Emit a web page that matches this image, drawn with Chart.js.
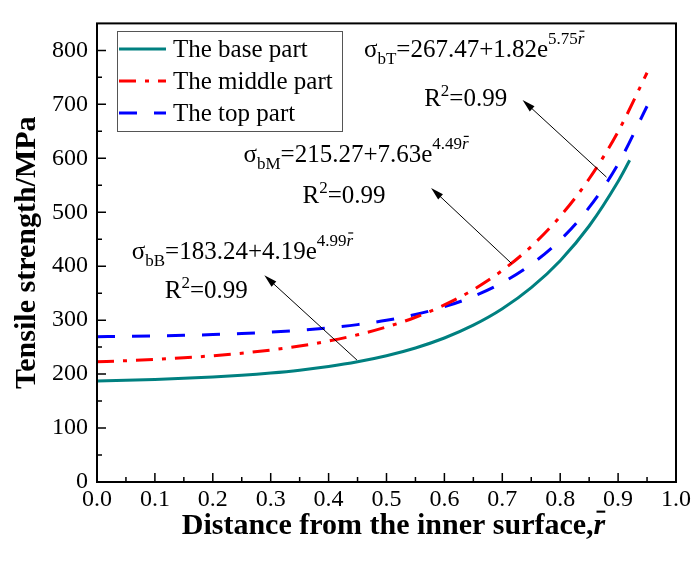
<!DOCTYPE html>
<html lang="en">
<head>
<meta charset="UTF-8" />
<title>Tensile strength vs distance from inner surface</title>
<script src="https://cdn.jsdelivr.net/npm/chart.js"></script>
<style>
  html, body { margin: 0; padding: 0; background: #fff; }
</style>
</head>
<body>
<canvas id="chart" width="694" height="563"></canvas>
<script>
  // values
  const rBase = [0, 0.05, 0.1, 0.15, 0.2, 0.25, 0.3, 0.35, 0.4, 0.45, 0.5, 0.55, 0.6, 0.65, 0.7, 0.75, 0.8, 0.85, 0.9, 0.92];
  const baseMPa = [187.4, 188.6, 190.1, 192.1, 194.6, 197.8, 202.0, 207.3, 214.1, 222.8, 234.0, 248.4, 266.9, 290.6, 321.0, 360.1, 410.2, 474.5, 557.0, 596.3];

  const rUpper = [0, 0.05, 0.1, 0.15, 0.2, 0.25, 0.3, 0.35, 0.4, 0.45, 0.5, 0.55, 0.6, 0.65, 0.7, 0.75, 0.8, 0.85, 0.9, 0.95];
  const middleMPa = [222.9, 224.8, 227.2, 230.2, 234.0, 238.7, 244.6, 252.0, 261.2, 272.8, 287.3, 305.4, 328.1, 356.5, 392.1, 436.6, 492.3, 562.1, 649.3, 758.5];
  const topMPa = [269.3, 269.9, 270.7, 271.8, 273.2, 275.1, 277.7, 281.1, 285.6, 291.7, 299.7, 310.5, 324.8, 343.9, 369.4, 403.3, 448.5, 508.9, 589.3, 696.5];

  const seriesNames = ['The base part', 'The middle part', 'The top part'];

  const xTicks = [0, 0.1, 0.2, 0.3, 0.4, 0.5, 0.6, 0.7, 0.8, 0.9, 1.0];
  const xTickLabels = ['0.0', '0.1', '0.2', '0.3', '0.4', '0.5', '0.6', '0.7', '0.8', '0.9', '1.0'];
  const yTicks = [0, 100, 200, 300, 400, 500, 600, 700, 800];

  // fitted equations (base, middle, top)
  const eqSubs = ['bB', 'bM', 'bT'];
  const eqBody = ['=183.24+4.19e', '=215.27+7.63e', '=267.47+1.82e'];
  const eqExp = ['4.99', '4.49', '5.75'];
  const r2Value = ['=0.99', '=0.99', '=0.99'];

  // where the notes sit, in data units (r, MPa)
  const eqAt = [[0.060, 414], [0.253, 593], [0.461, 788]];
  const r2At = [[0.117, 341], [0.355, 518], [0.565, 697]];
  const arrowFrom = [[0.449, 226], [0.716, 405], [0.880, 565]];
  const arrowTo = [[0.289, 383], [0.577, 545], [0.735, 708]];

  const SERIF = "'Liberation Serif', 'Times New Roman', serif";
  Chart.defaults.font.family = SERIF;
  Chart.defaults.color = '#000';

  function pts(xs, ys) {
    return xs.map((x, i) => ({ x: x, y: ys[i] }));
  }

  function drawRich(ctx, x, y, parts, measureOnly) {
    let cx = x;
    parts.forEach(p => {
      const size = p.size || 25;
      ctx.font = (p.italic ? 'italic ' : '') + (p.bold ? 'bold ' : '') + size + 'px ' + SERIF;
      const w = ctx.measureText(p.t).width;
      const by = y + (p.dy || 0);
      if (!measureOnly) {
        ctx.fillText(p.t, cx, by);
        if (p.bar) ctx.fillRect(cx + w * 0.25, by - size * 0.78, w * 0.75, Math.max(1, size * 0.07));
      }
      cx += w;
    });
    return cx - x;
  }

  const extras = {
    id: 'extras',
    afterDatasetsDraw(chart) {
      const ctx = chart.ctx;
      const a = chart.chartArea;
      const xs = chart.scales.x, ys = chart.scales.y;
      ctx.save();

      // frame
      ctx.strokeStyle = '#000';
      ctx.lineWidth = 2;
      ctx.strokeRect(a.left, a.top, a.right - a.left, a.bottom - a.top);

      // inward ticks
      ctx.lineWidth = 1.5;
      ctx.beginPath();
      xTicks.forEach((v, i) => {
        const px = xs.getPixelForValue(v);
        ctx.moveTo(px, a.bottom); ctx.lineTo(px, a.bottom - 9);
        if (i < xTicks.length - 1) {
          const pm = xs.getPixelForValue((v + xTicks[i + 1]) / 2);
          ctx.moveTo(pm, a.bottom); ctx.lineTo(pm, a.bottom - 5);
        }
      });
      yTicks.forEach((v, i) => {
        const py = ys.getPixelForValue(v);
        ctx.moveTo(a.left, py); ctx.lineTo(a.left + 9, py);
        const next = i < yTicks.length - 1 ? yTicks[i + 1] : v + 100;
        const pm = ys.getPixelForValue((v + next) / 2);
        if (pm > a.top + 2) { ctx.moveTo(a.left, pm); ctx.lineTo(a.left + 5, pm); }
      });
      ctx.stroke();

      // arrows
      ctx.strokeStyle = '#000';
      ctx.fillStyle = '#000';
      ctx.lineWidth = 1;
      arrowFrom.forEach((f, i) => {
        const x1 = xs.getPixelForValue(f[0]), y1 = ys.getPixelForValue(f[1]);
        const x2 = xs.getPixelForValue(arrowTo[i][0]), y2 = ys.getPixelForValue(arrowTo[i][1]);
        const ang = Math.atan2(y2 - y1, x2 - x1);
        ctx.beginPath();
        ctx.moveTo(x1, y1);
        ctx.lineTo(x2 - 8 * Math.cos(ang), y2 - 8 * Math.sin(ang));
        ctx.stroke();
        ctx.beginPath();
        ctx.moveTo(x2, y2);
        ctx.lineTo(x2 - 13 * Math.cos(ang) + 3.5 * Math.sin(ang), y2 - 13 * Math.sin(ang) - 3.5 * Math.cos(ang));
        ctx.lineTo(x2 - 13 * Math.cos(ang) - 3.5 * Math.sin(ang), y2 - 13 * Math.sin(ang) + 3.5 * Math.cos(ang));
        ctx.closePath();
        ctx.fill();
      });

      // equations and R2
      ctx.textBaseline = 'alphabetic';
      ctx.textAlign = 'left';
      eqAt.forEach((p, i) => {
        drawRich(ctx, xs.getPixelForValue(p[0]), ys.getPixelForValue(p[1]), [
          { t: 'σ' },
          { t: eqSubs[i], size: 17, dy: 7 },
          { t: eqBody[i] },
          { t: eqExp[i], size: 17, dy: -13 },
          { t: 'r', size: 17, dy: -13, italic: true, bar: true }
        ]);
        const q = r2At[i];
        drawRich(ctx, xs.getPixelForValue(q[0]), ys.getPixelForValue(q[1]), [
          { t: 'R' },
          { t: '2', size: 17, dy: -10 },
          { t: r2Value[i] }
        ]);
      });

      // legend
      ctx.strokeStyle = '#555';
      ctx.lineWidth = 1;
      ctx.strokeRect(117.5, 31.5, 225, 100);
      chart.data.datasets.forEach((ds, i) => {
        const cy = 49 + i * 32;
        ctx.save();
        ctx.strokeStyle = ds.borderColor;
        ctx.lineWidth = ds.borderWidth;
        ctx.setLineDash(ds.borderDash || []);
        ctx.beginPath();
        ctx.moveTo(119, cy); ctx.lineTo(166, cy);
        ctx.stroke();
        ctx.restore();
        ctx.fillStyle = '#000';
        ctx.font = '25px ' + SERIF;
        ctx.fillText(ds.label, 173, cy + 8);
      });

      // x axis title with r-bar
      const titleParts = [
        { t: 'Distance from the inner surface,', size: 30, bold: true },
        { t: 'r', size: 30, bold: true, italic: true, bar: true }
      ];
      const tw = drawRich(ctx, 0, 0, titleParts, true);
      const cx = (a.left + a.right) / 2 + 7;
      drawRich(ctx, cx - tw / 2, 534, titleParts);

      ctx.restore();
    }
  };

  new Chart(document.getElementById('chart'), {
    type: 'line',
    data: {
      datasets: [
        {
          label: seriesNames[0],
          data: pts(rBase, baseMPa),
          borderColor: '#008080',
          borderWidth: 3,
          pointRadius: 0,
          cubicInterpolationMode: 'monotone',
          fill: false
        },
        {
          label: seriesNames[1],
          data: pts(rUpper, middleMPa),
          borderColor: '#ff0000',
          borderWidth: 3,
          borderDash: [17, 9, 4, 9],
          pointRadius: 0,
          cubicInterpolationMode: 'monotone',
          fill: false
        },
        {
          label: seriesNames[2],
          data: pts(rUpper, topMPa),
          borderColor: '#0000ff',
          borderWidth: 3,
          borderDash: [18, 17],
          pointRadius: 0,
          cubicInterpolationMode: 'monotone',
          fill: false
        }
      ]
    },
    options: {
      responsive: false,
      animation: false,
      layout: { padding: { top: 16, right: 16, left: 0, bottom: 0 } },
      plugins: {
        legend: { display: false },
        tooltip: { enabled: false }
      },
      scales: {
        x: {
          type: 'linear',
          min: 0,
          max: 1,
          grid: { display: false, drawTicks: false },
          border: { display: false },
          afterBuildTicks: s => { s.ticks = xTicks.map(v => ({ value: v })); },
          afterFit: s => { s.height = 81; },
          ticks: {
            padding: 3,
            color: '#000',
            maxRotation: 0,
            autoSkip: false,
            font: { size: 24 },
            callback: (v, i) => xTickLabels[i]
          }
        },
        y: {
          type: 'linear',
          min: 0,
          max: 850,
          grid: { display: false, drawTicks: false },
          border: { display: false },
          afterBuildTicks: s => { s.ticks = yTicks.map(v => ({ value: v })); },
          afterFit: s => { s.width = 97; },
          ticks: { padding: 9, color: '#000', font: { size: 24 } },
          title: {
            display: true,
            text: 'Tensile strength/MPa',
            color: '#000',
            font: { size: 30, weight: 'bold' },
            padding: { top: 9, bottom: 0 }
          }
        }
      }
    },
    plugins: [extras]
  });
</script>
</body>
</html>
